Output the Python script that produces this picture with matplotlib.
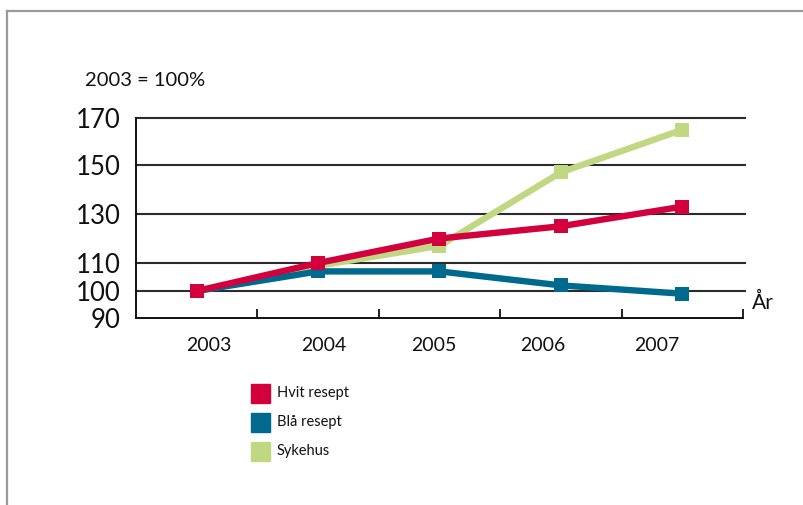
import numpy as np
import matplotlib
matplotlib.use("Agg")
import matplotlib.pyplot as plt
from matplotlib.patches import Rectangle
from matplotlib.lines import Line2D

# Index values, 2003 = 100
years = ["2003", "2004", "2005", "2006", "2007"]
hvit_resept = [100, 110, 120, 125, 133]
blaa_resept = [100, 107, 107, 102, 99]
sykehus = [100, 109, 117, 147, 165]
series_names = ["Hvit resept", "Blå resept", "Sykehus"]
series_colors = ["#d2003c", "#006a8e", "#c0d881"]
y_ticks = [90, 100, 110, 130, 150, 170]

# The value axis is drawn with uneven steps between its labelled levels
TICK_POS = [0, 27, 55, 104, 153, 200]


def fwd(v):
    return np.interp(v, y_ticks, TICK_POS)


def inv(p):
    return np.interp(p, TICK_POS, y_ticks)


plt.rcParams["font.family"] = ["Lato", "DejaVu Sans"]

W, H = 804, 505
fig = plt.figure(figsize=(W / 100, H / 100), dpi=100)
ax = fig.add_axes([136 / W, (H - 318) / H, 607 / W, 200 / H])
ax.set_yscale("function", functions=(fwd, inv))
ax.set_ylim(90, 170)
ax.set_xlim(-0.5, len(years) - 0.5)

x = np.arange(len(years))
for vals, col, z in [(sykehus, series_colors[2], 3),
                     (blaa_resept, series_colors[1], 4),
                     (hvit_resept, series_colors[0], 5)]:
    ax.plot(x, vals, color=col, lw=4.6, marker="s", ms=9.5, mew=0,
            zorder=z, clip_on=False, solid_joinstyle="miter")

# horizontal rules at each labelled level above the baseline
for v in y_ticks[1:]:
    ax.axhline(v, color="#2b2b2b", lw=1.5, zorder=1, xmax=1.003, clip_on=False)

for s in ["top", "right"]:
    ax.spines[s].set_visible(False)
for s in ["left", "bottom"]:
    ax.spines[s].set_linewidth(1.4)
    ax.spines[s].set_color("#111111")

ax.set_yticks(y_ticks)
ax.set_yticklabels([str(t) for t in y_ticks], fontsize=18.5, color="#111111")
ax.yaxis.set_minor_locator(matplotlib.ticker.NullLocator())
ax.tick_params(axis="y", length=0, pad=11)

# year labels beneath the axis, tick marks at the category boundaries
label_x = [0.10, 1.05, 1.95, 2.85, 3.79]
ax.set_xticks(label_x)
ax.set_xticklabels(years, fontsize=14, color="#111111")
ax.tick_params(axis="x", which="major", length=0, pad=14)
ax.set_xticks(np.arange(len(years)) + 0.5, minor=True)
ax.tick_params(axis="x", which="minor", direction="in", length=6.5, width=1.3,
               color="#111111")

fig.text(85 / W, 1 - 80 / H, "2003 = 100%", fontsize=14.5, va="center",
         ha="left", color="#111111")
fig.text(752 / W, 1 - 303 / H, "År", fontsize=15, va="center", ha="left",
         color="#111111")

# legend
for i, (name, col) in enumerate(zip(series_names, series_colors)):
    yc = 393 + i * 29
    fig.patches.append(Rectangle((251 / W, 1 - (yc + 9.5) / H), 19 / W, 19 / H,
                                 transform=fig.transFigure, color=col,
                                 figure=fig))
    fig.text(277 / W, 1 - yc / H, name, fontsize=10.5, va="center",
             ha="left", color="#111111")

# outer frame
fig.lines.append(Line2D([7.5 / W, 7.5 / W], [0, 1 - 10.5 / H],
                        transform=fig.transFigure, color="#9a9a9a", lw=1.6))
fig.lines.append(Line2D([7.5 / W, 1], [1 - 10.5 / H, 1 - 10.5 / H],
                        transform=fig.transFigure, color="#9a9a9a", lw=1.6))

fig.savefig("out.png", dpi=100)
